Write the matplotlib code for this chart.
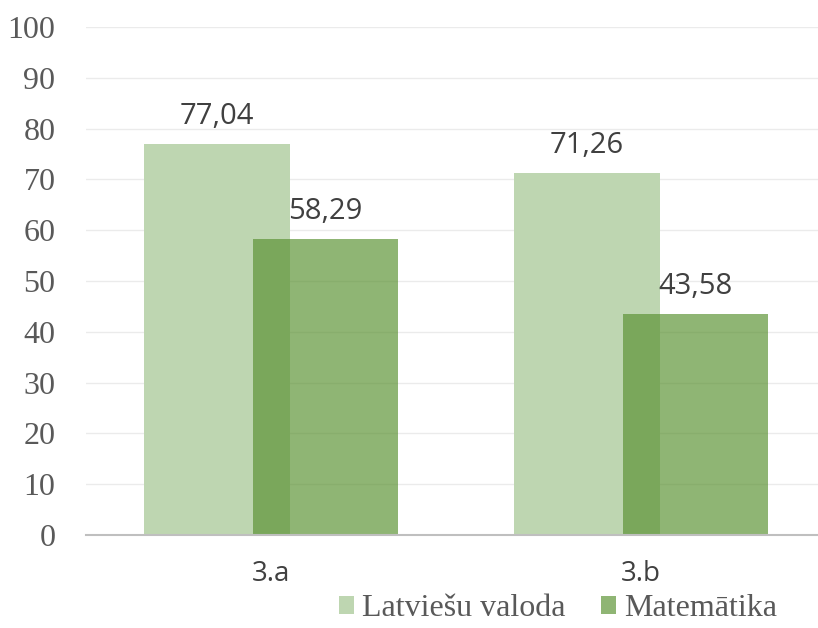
import numpy as np
import matplotlib
matplotlib.use("Agg")
import matplotlib.pyplot as plt

categories = ["3.a", "3.b"]
series_names = ["Latviešu valoda", "Matemātika"]
latviesu = [77.04, 71.26]
matematika = [58.29, 43.58]
yticks = list(range(0, 101, 10))

light = "#bed6b1"
dark = "#5a9232"

fig = plt.figure(figsize=(8.18, 6.28), dpi=100)
# plot area runs off the right edge like in the source
ax = fig.add_axes([86 / 818, 1 - 535 / 628, 740 / 818, 508 / 628])

x = np.arange(len(categories))
w = 0.392
off = 0.146
b1 = ax.bar(x - off, latviesu, w, color=light, zorder=2, label=series_names[0])
b2 = ax.bar(x + off, matematika, w, color=dark, alpha=0.68, zorder=3, label=series_names[1])

for bars, vals in ((b1, latviesu), (b2, matematika)):
    for r, v in zip(bars, vals):
        ax.annotate(f"{v:.2f}".replace(".", ","),
                    (r.get_x() + r.get_width() / 2, r.get_height()),
                    xytext=(0, 14.4), textcoords="offset points",
                    ha="center", va="baseline", fontsize=21,
                    family="Open Sans", color="#404040", zorder=5)

ax.set_xlim(-0.5, 1.5)
ax.set_ylim(0, 100)
ax.set_yticks(yticks)
ax.set_xticks(x)
ax.set_xticklabels(categories, family="Open Sans", fontsize=20, color="#404040")
for lab in ax.get_yticklabels():
    lab.set_family("Liberation Serif")
    lab.set_fontsize(23)
    lab.set_color("#595959")
ax.tick_params(axis="y", length=0, pad=22)
ax.tick_params(axis="x", length=0, pad=18)
ax.yaxis.grid(True, color="#ebebeb", lw=1, zorder=0)
ax.set_axisbelow(True)
for s in ("top", "right", "left"):
    ax.spines[s].set_visible(False)
ax.spines["bottom"].set_color("#bfbfbf")
ax.spines["bottom"].set_linewidth(1.5)
ax.spines["bottom"].set_zorder(4)

leg = fig.legend(handles=[b1, b2], loc="center", bbox_to_anchor=(558 / 818, 1 - 609 / 628),
                 ncol=2, frameon=False, handlelength=0.47, handleheight=0.47,
                 handletextpad=0.25, columnspacing=1.1, borderpad=0,
                 prop={"family": "Liberation Serif", "size": 23})
for t in leg.get_texts():
    t.set_color("#595959")

fig.savefig("out.png", dpi=100)
